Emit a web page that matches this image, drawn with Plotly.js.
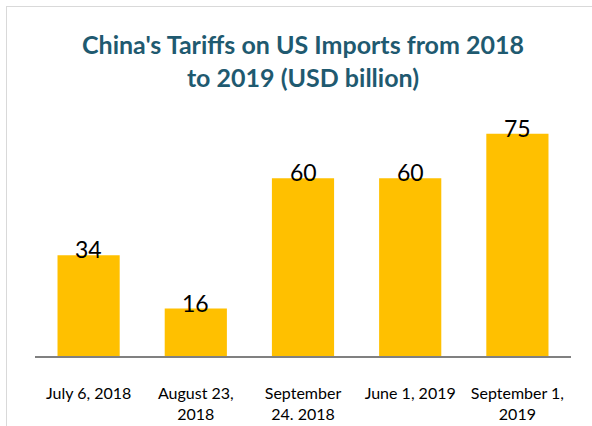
<!DOCTYPE html>
<html>
<head>
<meta charset="utf-8">
<script src="https://cdn.plot.ly/plotly-3.0.1.min.js"></script>
<style>
  html, body { margin: 0; padding: 0; background: #fff; }
  #chart { position: absolute; left: 0; top: 0; width: 592px; height: 426px; }
  #frame { position: absolute; left: 6px; top: 6px; width: 700px; height: 600px;
           border-top: 1px solid #d9d9d9; border-left: 1px solid #d9d9d9; pointer-events: none; }
</style>
</head>
<body>
<div id="chart"></div>
<div id="frame"></div>
<script>
const categories = ["July 6, 2018", "August 23,<br>2018", "September<br>24. 2018", "June 1, 2019", "September 1,<br>2019"];
const values = [34, 16, 60, 60, 75];
const titleText = "China's Tariffs on US Imports from 2018<br>to 2019 (USD billion)";

const FONT = "Lato, 'Open Sans', sans-serif";

const trace = {
  type: 'bar',
  x: categories,
  y: values,
  marker: { color: '#FFC000' },
  hoverinfo: 'none'
};

const annotations = categories.map((c, i) => ({
  x: c, y: values[i], xref: 'x', yref: 'y',
  text: String(values[i]), showarrow: false,
  yanchor: 'bottom', yshift: -10,
  font: { family: FONT, size: 23, color: '#000' }
}));

const layout = {
  width: 592, height: 426,
  margin: { l: 35, r: 21, t: 119, b: 70 },
  paper_bgcolor: 'rgba(0,0,0,0)',
  plot_bgcolor: 'rgba(0,0,0,0)',
  bargap: 0.42,
  showlegend: false,
  title: {
    text: titleText,
    x: 0.5, xref: 'paper',
    y: 1 - 54 / 426, yref: 'container', yanchor: 'top',
    font: { family: FONT, size: 25, color: '#1F5A70', weight: 'bold' }
  },
  xaxis: {
    type: 'category',
    showline: true, linecolor: '#808080', linewidth: 2,
    ticks: '', showgrid: false, zeroline: false,
    ticklabelstandoff: 22,
    tickfont: { family: FONT, size: 16, color: '#000' },
    fixedrange: true
  },
  yaxis: {
    range: [0, 80],
    visible: false, showgrid: false, zeroline: false,
    fixedrange: true
  },
  annotations: annotations
};

Plotly.newPlot('chart', [trace], layout, { displayModeBar: false, staticPlot: true });
</script>
</body>
</html>
